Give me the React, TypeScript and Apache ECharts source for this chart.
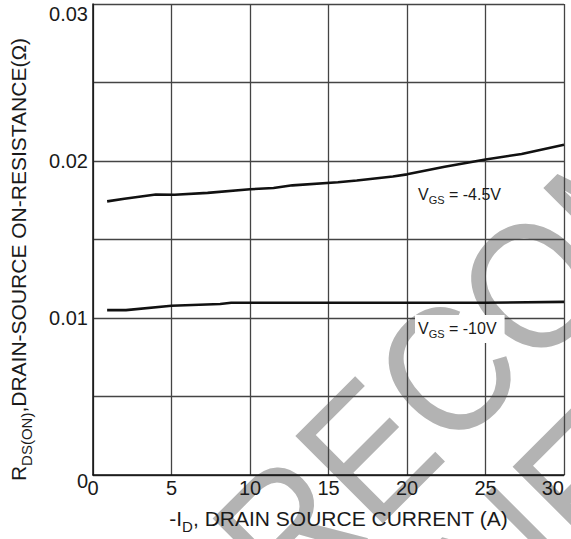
import React, { useEffect, useRef } from "react";
import * as echarts from "echarts";

// ---- data ----
const xTickValues = [0, 5, 10, 15, 20, 25, 30];
const yTickLabels = ["0", "0.01", "0.02", "0.03"];

const current45 = [0.9, 2, 4, 5.2, 7.3, 10, 11.5, 12.7, 15.6, 16.8, 19.1, 20, 22.4, 25, 27.3, 30];
const rds45 = [0.01743, 0.0176, 0.01787, 0.01785, 0.01797, 0.0182, 0.01828, 0.01845, 0.01865, 0.01876, 0.01901, 0.01915, 0.01963, 0.0201, 0.02045, 0.02103];

const current10 = [0.9, 2.1, 5, 8.1, 8.8, 15, 20, 25, 30];
const rds10 = [0.0105, 0.0105, 0.01078, 0.01089, 0.01097, 0.01097, 0.01097, 0.01097, 0.01103];

const seriesNames = ["VGS = -4.5V", "VGS = -10V"];
const labelTexts = ["V{s|GS} = -4.5V", "V{s|GS} = -10V"];
const labelAnchors = [
  [20.7, 0.01785],
  [20.7, 0.0093],
];
const xTitle = "-I{s|D}, DRAIN SOURCE CURRENT (A)";
const yTitle = "R{s|DS(ON)},DRAIN-SOURCE ON-RESISTANCE(Ω)";
const watermarkLines = ["NOT RECOMMENDED", "FOR NEW DESIGN"];

const FONT = "'Liberation Sans', Arial, Helvetica, sans-serif";

export default function App() {
  const ref = useRef<HTMLDivElement>(null);

  useEffect(() => {
    const chart = echarts.init(ref.current as HTMLDivElement, null, { renderer: "svg" });

    const gridLine = { show: true, lineStyle: { color: "#444", width: 1.3 } };

    chart.setOption({
      animation: false,
      backgroundColor: "#fff",
      grid: { left: 85, right: 7, top: 4, bottom: 52, containLabel: false },
      xAxis: {
        type: "value",
        min: xTickValues[0],
        max: xTickValues[xTickValues.length - 1],
        interval: 5,
        axisLine: { show: true, onZero: false, lineStyle: { color: "#111", width: 1.5 } },
        axisTick: { show: false },
        splitLine: gridLine,
        axisLabel: {
          fontFamily: FONT,
          fontSize: 20,
          color: "#1a1a1a",
          margin: 3,
          alignMaxLabel: "right",
        },
        name: xTitle,
        nameLocation: "middle",
        nameGap: 28,
        nameTextStyle: {
          fontFamily: FONT,
          fontSize: 21,
          color: "#1a1a1a",
          padding: [0, 0, 0, 20],
          rich: { s: { fontFamily: FONT, fontSize: 15, color: "#1a1a1a", padding: [16, 0, 0, 0] } },
        },
      },
      yAxis: {
        type: "value",
        min: 0,
        max: 0.03,
        interval: 0.005,
        axisLine: { show: true, lineStyle: { color: "#111", width: 1.5 } },
        axisTick: { show: false },
        splitLine: gridLine,
        axisLabel: {
          fontFamily: FONT,
          fontSize: 20,
          color: "#1a1a1a",
          margin: 5,
          verticalAlignMaxLabel: "top",
          formatter: (v: number) => {
            const k = v * 100;
            if (Math.abs(k - Math.round(k)) > 1e-6) return "";
            const t = yTickLabels[Math.round(k)];
            return Math.round(k) === 0 ? `{z|${t}}` : t;
          },
          rich: { z: { fontFamily: FONT, fontSize: 20, color: "#1a1a1a", padding: [12, 0, 0, 0] } },
        },
        name: yTitle,
        nameLocation: "middle",
        nameGap: 59,
        nameTextStyle: {
          fontFamily: FONT,
          fontSize: 21,
          color: "#1a1a1a",
          padding: [0, 40, 0, 0],
          rich: { s: { fontFamily: FONT, fontSize: 15, color: "#1a1a1a", padding: [16, 0, 0, 0] } },
        },
      },
      series: [
        {
          name: seriesNames[0],
          type: "line",
          data: current45.map((x, i) => [x, rds45[i]]),
          showSymbol: false,
          smooth: false,
          lineStyle: { color: "#111", width: 2.6 },
          z: 5,
        },
        {
          name: seriesNames[1],
          type: "line",
          data: current10.map((x, i) => [x, rds10[i]]),
          showSymbol: false,
          smooth: false,
          lineStyle: { color: "#111", width: 2.6 },
          z: 5,
        },
      ],
    });

    const p0 = chart.convertToPixel({ gridIndex: 0 }, labelAnchors[0]) as number[];
    const p1 = chart.convertToPixel({ gridIndex: 0 }, labelAnchors[1]) as number[];

    const F = 180;
    const wmStyle = {
      font: `${F}px ${FONT}`,
      fill: "#b3b3b3",
      align: "center",
      verticalAlign: "middle",
    };
    const labelRich = { s: { fontFamily: FONT, fontSize: 11, fill: "#1a1a1a", padding: [11, 0, 0, 0] } };

    chart.setOption({
      graphic: [
        {
          type: "text",
          x: 572,
          y: 246,
          rotation: Math.PI / 4,
          scaleX: 0.9,
          z: -10,
          silent: true,
          style: { ...wmStyle, text: watermarkLines[0] },
        },
        {
          type: "text",
          x: 696,
          y: 370,
          rotation: Math.PI / 4,
          scaleX: 0.9,
          z: -10,
          silent: true,
          style: { ...wmStyle, text: watermarkLines[1] },
        },
        {
          type: "text",
          x: p0[0],
          y: p0[1],
          z: 20,
          silent: true,
          style: {
            text: labelTexts[0],
            font: `16px ${FONT}`,
            fill: "#1a1a1a",
            align: "left",
            verticalAlign: "middle",
            rich: labelRich,
          },
        },
        {
          type: "text",
          x: p1[0] - 3,
          y: p1[1],
          z: 20,
          silent: true,
          style: {
            text: labelTexts[1],
            font: `16px ${FONT}`,
            fill: "#1a1a1a",
            align: "left",
            verticalAlign: "middle",
            backgroundColor: "#fff",
            padding: [3, 8, 3, 3],
            rich: labelRich,
          },
        },
      ],
    });

    return () => chart.dispose();
  }, []);

  return (
    <div
      ref={ref}
      style={{ position: "fixed", left: 0, top: 0, width: 571, height: 539, background: "#fff" }}
    />
  );
}
